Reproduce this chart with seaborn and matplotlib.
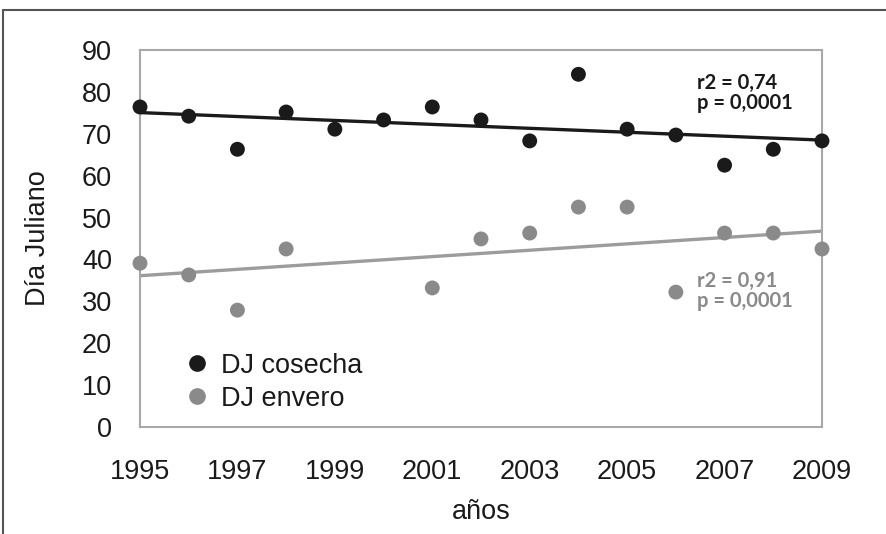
import numpy as np
import pandas as pd
import matplotlib
matplotlib.use("Agg")
import matplotlib.pyplot as plt
import seaborn as sns
from matplotlib.lines import Line2D

years = [1995, 1996, 1997, 1998, 1999, 2000, 2001, 2002, 2003, 2004, 2005, 2006, 2007, 2008, 2009]
dj_cosecha = [76.4, 74.2, 66.3, 75.2, 71.1, 73.3, 76.4, 73.3, 68.3, 84.2, 71.1, 69.7, 62.5, 66.3, 68.3]
dj_envero = [39.1, 36.3, 27.9, 42.5, np.nan, np.nan, 33.2, 44.9, 46.3, 52.5, 52.5, 32.2, 46.3, 46.3, 42.5]
xticks = [1995, 1997, 1999, 2001, 2003, 2005, 2007, 2009]
yticks = [0, 10, 20, 30, 40, 50, 60, 70, 80, 90]
stats_cosecha = ["r2 = 0,74", "p = 0,0001"]
stats_envero = ["r2 = 0,91", "p = 0,0001"]

df = pd.DataFrame({"año": years, "cosecha": dj_cosecha, "envero": dj_envero})

sns.set_theme(style="white")
plt.rcParams['font.family'] = ['Liberation Sans', 'DejaVu Sans']

fig = plt.figure(figsize=(8.86, 5.34), dpi=100)
ax = fig.add_axes([140/886, 1 - 427/534, (822-140)/886, (427-50)/534])

black = "#1a1a1a"
gray = "#8a8a8a"
sns.regplot(data=df, x="año", y="cosecha", ax=ax, ci=None, color=black,
            scatter_kws=dict(s=115, color=black, alpha=1, edgecolor="none", clip_on=False, zorder=3),
            line_kws=dict(color=black, lw=2.4, zorder=2))
sns.regplot(data=df, x="año", y="envero", ax=ax, ci=None, color=gray,
            scatter_kws=dict(s=115, color=gray, alpha=1, edgecolor="none", clip_on=False, zorder=3),
            line_kws=dict(color="#9c9c9c", lw=2.4, zorder=2))

fs = 19.5
ax.set_xlim(1995, 2009)
ax.set_ylim(0, 90)
ax.set_xticks(xticks)
ax.set_xticklabels([str(x) for x in xticks])
ax.set_yticks(yticks)
ax.tick_params(axis="both", length=0, labelsize=fs, colors="#1a1a1a")
ax.tick_params(axis="x", pad=23)
ax.tick_params(axis="y", pad=20)
ax.set_xlabel("años", fontsize=fs, color="#1a1a1a", labelpad=10)
ax.set_ylabel("Día Juliano", fontsize=fs, color="#1a1a1a", labelpad=22)
for sp in ax.spines.values():
    sp.set_color("#a8a8a8")
    sp.set_linewidth(1.5)

ax.text(0.817, 0.94, "\n".join(stats_cosecha), transform=ax.transAxes, fontsize=14.5,
        fontweight="bold", color="#1a1a1a", family=["Lato", "DejaVu Sans"], va="top", linespacing=1.05)
ax.text(0.817, 0.415, "\n".join(stats_envero), transform=ax.transAxes, fontsize=14.5,
        fontweight="bold", color="#8a8a8a", family=["Lato", "DejaVu Sans"], va="top", linespacing=1.05)

handles = [Line2D([], [], marker="o", ls="", color=black, markersize=11),
           Line2D([], [], marker="o", ls="", color=gray, markersize=11)]
ax.legend(handles, ["DJ cosecha", "DJ envero"], loc="lower left", bbox_to_anchor=(0.04, 0.005),
          frameon=False, fontsize=fs, handletextpad=0.3, handlelength=1.2,
          labelspacing=0.25, borderpad=0, labelcolor="#1a1a1a")

# outer frame
fig.add_artist(Line2D([3/886, 3/886], [0, 1 - 10/534], transform=fig.transFigure, color="#555555", lw=1.5))
fig.add_artist(Line2D([3/886, 1], [1 - 10/534, 1 - 10/534], transform=fig.transFigure, color="#555555", lw=1.5))

fig.savefig("out.png", dpi=100)
